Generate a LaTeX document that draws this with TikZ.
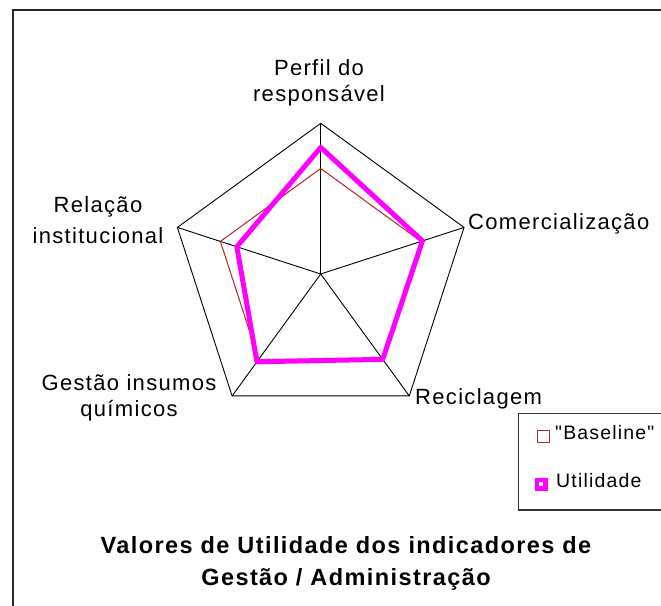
\documentclass[tikz,border=0pt]{standalone}
\usepackage{fontspec}
\newfontfamily\chartfont{Liberation Sans}[LetterSpace=6]
\usepackage{xcolor}
\usetikzlibrary{positioning}

\definecolor{baselinered}{RGB}{185,35,35}
\definecolor{utilmag}{RGB}{255,0,255}
\newcommand{\radarR}{150.7}

\begin{document}
\begin{tikzpicture}[x=1pt, y=-1pt,
        lbl/.style={inner sep=0pt, align=center, font=\chartfont\fontsize{22}{26}\selectfont},
        keylbl/.style={inner sep=0pt, anchor=base west, font=\chartfont\fontsize{19.5}{24}\selectfont},
        titlelbl/.style={inner sep=0pt, align=center, font=\chartfont\fontsize{23.5}{32}\selectfont\bfseries},
        baseline line/.style={baselinered, line width=1pt, line join=miter},
        util line/.style={utilmag, line width=5pt, line join=round}]
    \clip (0,0) rectangle (661,605);
    \fill[white] (0,0) rectangle (661,605);
    \draw[line width=1.6pt, black!85] (13,10) rectangle (700,700);

    % radar grid and series
    \begin{scope}[shift={(320.7,274)}, yscale=-1]
        \coordinate (o) at (0,0);
        \coordinate (perfil) at (90:\radarR);
        \coordinate (comerc) at (18:\radarR);
        \coordinate (recic) at (-54:\radarR);
        \coordinate (gestao) at (-126:\radarR);
        \coordinate (relacao) at (162:\radarR);

        \coordinate (b1) at (90:{0.70*\radarR});
        \coordinate (b2) at (18:{0.70*\radarR});
        \coordinate (b3) at (-54:{0.70*\radarR});
        \coordinate (b4) at (-126:{0.70*\radarR});
        \coordinate (b5) at (162:{0.70*\radarR});

        \coordinate (u1) at (90:{0.84*\radarR});
        \coordinate (u2) at (18:{0.71*\radarR});
        \coordinate (u3) at (-54:{0.70*\radarR});
        \coordinate (u4) at (-126:{0.72*\radarR});
        \coordinate (u5) at (162:{0.585*\radarR});
    \end{scope}

    \draw[line width=0.9pt] (perfil) -- (comerc) -- (recic) -- (gestao) -- (relacao) -- cycle;
    \draw[line width=0.9pt] (o) -- (perfil);
    \draw[line width=0.9pt] (o) -- (comerc);
    \draw[line width=0.9pt] (o) -- (recic);
    \draw[line width=0.9pt] (o) -- (gestao);
    \draw[line width=0.9pt] (o) -- (relacao);

    \draw[baseline line] (b1) -- (b2) -- (b3) -- (b4) -- (b5) -- cycle;
    \draw[util line] (u1) -- (u2) -- (u3) -- (u4) -- (u5) -- cycle;

    % axis labels
    \node[lbl] (lperfil) at (319,83) {Perfil do\\responsável};
    \node[lbl, anchor=base west] (lcomerc) at (468,229) {Comercialização};
    \node[lbl, anchor=base west] (lrecic) at (415,404) {Reciclagem};
    \node[lbl] (lgestao) at (129,397.5) {Gestão insumos\\químicos};
    \node[lbl] (lrelacao) at (98,220.4) {Relação\\[5pt]institucional};

    % legend
    \draw[line width=1.2pt, black!80] (518.3,413.3) rectangle (700,510);
    \node[draw=baselinered, line width=1pt, minimum size=12pt, inner sep=0pt] (keyb) at (543,436.7) {};
    \node[keylbl] (lkeyb) at (555,439) {"Baseline"};
    \node[fill=utilmag, minimum size=13pt, inner sep=0pt] (keyu) at (541,484) {};
    \node[fill=white, minimum size=3.5pt, inner sep=0pt] (keyuin) at (keyu) {};
    \node[keylbl] (lkeyu) at (556,487) {Utilidade};

    % title
    \node[titlelbl] (title) at (346,563) {Valores de Utilidade dos indicadores de\\Gestão / Administração};
\end{tikzpicture}
\end{document}
